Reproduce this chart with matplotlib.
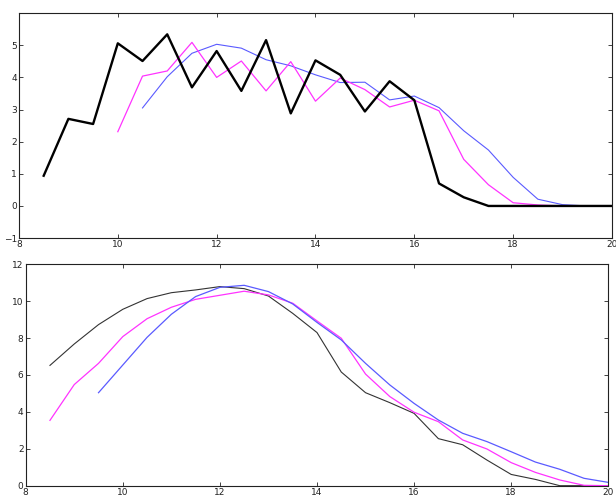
import matplotlib
matplotlib.use('Agg')
import matplotlib.pyplot as plt

# x positions (half steps)
x_black_top = [8.5, 9, 9.5, 10, 10.5, 11, 11.5, 12, 12.5, 13, 13.5, 14, 14.5, 15, 15.5, 16,
               16.5, 17, 17.5, 18, 18.5, 19, 19.5, 20]
y_black_top = [0.94, 2.71, 2.55, 5.06, 4.51, 5.34, 3.69, 4.82, 3.58, 5.16, 2.88, 4.53, 4.08,
               2.94, 3.88, 3.29, 0.70, 0.27, 0, 0, 0, 0, 0, 0]

x_mag_top = [10, 10.5, 11, 11.5, 12, 12.5, 13, 13.5, 14, 14.5, 15, 15.5, 16, 16.5, 17, 17.5,
             18, 18.5, 19, 19.5, 20]
y_mag_top = [2.31, 4.04, 4.20, 5.09, 4.00, 4.51, 3.58, 4.49, 3.26, 3.98, 3.62, 3.08, 3.29,
             2.96, 1.45, 0.66, 0.10, 0.03, 0, 0, 0]

x_blue_top = [10.5, 11, 11.5, 12, 12.5, 13, 13.5, 14, 14.5, 15, 15.5, 16, 16.5, 17, 17.5, 18,
              18.5, 19, 19.5]
y_blue_top = [3.05, 4.02, 4.75, 5.03, 4.91, 4.55, 4.36, 4.08, 3.84, 3.85, 3.30, 3.42, 3.06,
              2.34, 1.74, 0.89, 0.21, 0.04, 0]

x_black_bot = [8.5, 9, 9.5, 10, 10.5, 11, 11.5, 12, 12.5, 13, 13.5, 14, 14.5, 15, 15.5, 16,
               16.5, 17, 17.5, 18, 18.5, 19, 19.5, 20]
y_black_bot = [6.52, 7.68, 8.73, 9.56, 10.14, 10.46, 10.61, 10.79, 10.68, 10.28, 9.34, 8.30,
               6.16, 5.04, 4.50, 3.92, 2.55, 2.22, 1.39, 0.61, 0.34, 0, 0, 0]

x_mag_bot = [8.5, 9, 9.5, 10, 10.5, 11, 11.5, 12, 12.5, 13, 13.5, 14, 14.5, 15, 15.5, 16,
             16.5, 17, 17.5, 18, 18.5, 19, 19.5, 20]
y_mag_bot = [3.54, 5.48, 6.63, 8.08, 9.05, 9.67, 10.10, 10.32, 10.54, 10.34, 9.89, 8.93,
             7.99, 6.05, 4.83, 3.98, 3.47, 2.48, 1.99, 1.25, 0.72, 0.31, 0.02, 0]

x_blue_bot = [9.5, 10, 10.5, 11, 11.5, 12, 12.5, 13, 13.5, 14, 14.5, 15, 15.5, 16, 16.5, 17,
              17.5, 18, 18.5, 19, 19.5, 20]
y_blue_bot = [5.04, 6.54, 8.04, 9.29, 10.25, 10.75, 10.86, 10.52, 9.85, 8.85, 7.90, 6.63,
              5.46, 4.46, 3.56, 2.84, 2.39, 1.84, 1.28, 0.89, 0.40, 0.18]

blue = '#5a5aff'
magenta = '#ff33ff'

fig = plt.figure(figsize=(6.16, 4.95), dpi=100)
ax1 = fig.add_axes([0.0308, 0.519, 0.9627, 0.4545])
ax2 = fig.add_axes([0.0417, 0.0188, 0.9458, 0.4473])

# top panel
ax1.plot(x_blue_top, y_blue_top, color=blue, lw=0.8)
ax1.plot(x_mag_top, y_mag_top, color=magenta, lw=0.9)
ax1.plot(x_black_top, y_black_top, color='black', lw=1.7)
ax1.set_xlim(8, 20)
ax1.set_ylim(-1, 6)
ax1.set_yticks([-1, 0, 1, 2, 3, 4, 5])

# bottom panel
ax2.plot(x_black_bot, y_black_bot, color='#333333', lw=0.8)
ax2.plot(x_mag_bot, y_mag_bot, color=magenta, lw=0.9)
ax2.plot(x_blue_bot, y_blue_bot, color=blue, lw=0.9)
ax2.set_xlim(8, 20)
ax2.set_ylim(0, 12)
ax2.set_yticks([0, 2, 4, 6, 8, 10, 12])

for ax in (ax1, ax2):
    ax.set_xticks([8, 10, 12, 14, 16, 18, 20])
    ax.tick_params(direction='in', top=True, right=True, labelsize=6.5,
                   length=3, width=0.6, pad=1.5, colors='#222222')
    for s in ax.spines.values():
        s.set_linewidth(0.8)
        s.set_color('#222222')

fig.savefig('out.png', dpi=100)
